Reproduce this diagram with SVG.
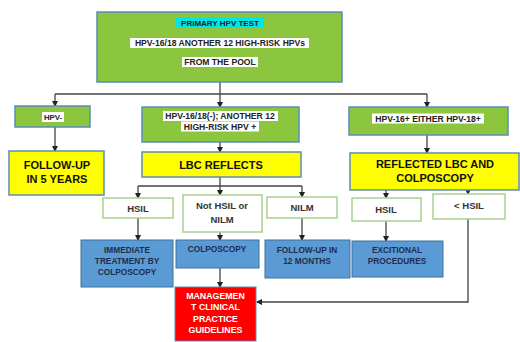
<svg xmlns="http://www.w3.org/2000/svg" width="520" height="342" viewBox="0 0 520 342">
<defs>
<style>
text{font-family:"Liberation Sans",Arial,sans-serif;font-weight:bold;text-anchor:middle}
.g{fill:#8CC63F;stroke:#5B8DB8;stroke-width:1.5}
.y{fill:#FFFF00;stroke:#5B8DB8;stroke-width:1.5}
.w{fill:#FFFFFF;stroke:#A9D18E;stroke-width:1.5}
.b{fill:#5B9BD5;stroke:#41719C;stroke-width:1}
.r{fill:#FF0000;stroke:#5B8DB8;stroke-width:1}
.hl{fill:#FFFFFF}
.t7{font-size:8.6px;fill:#222}
.t11{font-size:11px;fill:#111}
.t9{font-size:9.5px;fill:#333}
.tb{font-size:8.3px;fill:#1F2D4A}
.tr{font-size:8.8px;fill:#FFFFFF}
.c{fill:none;stroke:#444;stroke-width:1.3}
</style>
<marker id="a" viewBox="0 0 6 6" refX="5" refY="3" markerWidth="5" markerHeight="5" orient="auto">
<path d="M0,0L6,3L0,6z" fill="#222"/>
</marker>
</defs>
<rect width="520" height="342" fill="#FFFFFF"/>
<g id="connectors">
<path class="c" d="M220,82V94"/>
<path class="c" d="M55,94H427"/>
<path class="c" d="M55,94V106" marker-end="url(#a)"/>
<path class="c" d="M220,94V107" marker-end="url(#a)"/>
<path class="c" d="M427,94V107" marker-end="url(#a)"/>
<path class="c" d="M55,127V151" marker-end="url(#a)"/>
<path class="c" d="M220,142V152" marker-end="url(#a)"/>
<path class="c" d="M427,135V153" marker-end="url(#a)"/>
<path class="c" d="M220,177V186"/>
<path class="c" d="M138,186H302"/>
<path class="c" d="M138,186V198" marker-end="url(#a)"/>
<path class="c" d="M220,186V195" marker-end="url(#a)"/>
<path class="c" d="M302,186V197" marker-end="url(#a)"/>
<path class="c" d="M386,190V198" marker-end="url(#a)"/>
<path class="c" d="M468,190V194" marker-end="url(#a)"/>
<path class="c" d="M138,218V240" marker-end="url(#a)"/>
<path class="c" d="M220,232V240" marker-end="url(#a)"/>
<path class="c" d="M302,218V240" marker-end="url(#a)"/>
<path class="c" d="M386,221V241" marker-end="url(#a)"/>
<path class="c" d="M220,268V287" marker-end="url(#a)"/>
<path class="c" d="M468,219V302H257" marker-end="url(#a)"/>
</g>
<g id="n-primary">
<rect class="g" x="97" y="12" width="245" height="70"/>
<rect x="176" y="17.5" width="88" height="10" fill="#00E5E5"/>
<text class="t7" x="220" y="25.5" style="font-size:8px">PRIMARY HPV TEST</text>
<rect class="hl" x="130" y="38" width="179" height="10"/>
<text class="t7" x="220" y="46">HPV-16/18 ANOTHER 12 HIGH-RISK HPVs</text>
<rect class="hl" x="182" y="57" width="76" height="10"/>
<text class="t7" x="220" y="65">FROM THE POOL</text>
</g>
<g id="n-hpvneg">
<rect class="g" x="15" y="106" width="75" height="21"/>
<rect class="hl" x="42" y="112" width="22" height="10"/>
<text class="t7" x="53" y="120" style="font-size:7.8px">HPV-</text>
</g>
<g id="n-hpv1618neg">
<rect class="g" x="142" y="107" width="157" height="35"/>
<rect class="hl" x="163" y="111" width="115" height="10"/>
<text class="t7" x="220" y="119">HPV-16/18(-); ANOTHER 12</text>
<rect class="hl" x="181" y="121.5" width="78" height="10"/>
<text class="t7" x="220" y="129.5">HIGH-RISK HPV +</text>
</g>
<g id="n-hpv16pos">
<rect class="g" x="349" y="107" width="159" height="28"/>
<rect class="hl" x="372" y="113.5" width="112" height="10"/>
<text class="t7" x="428" y="121.5">HPV-16+ EITHER HPV-18+</text>
</g>
<g id="n-follow5">
<rect class="y" x="9" y="151" width="95" height="44"/>
<text class="t11" x="57" y="169">FOLLOW-UP</text>
<text class="t11" x="57" y="183">IN 5 YEARS</text>
</g>
<g id="n-lbc">
<rect class="y" x="142" y="152" width="159" height="25"/>
<text class="t11" x="221" y="168.5">LBC REFLECTS</text>
</g>
<g id="n-reflected">
<rect class="y" x="350" y="153" width="169" height="37"/>
<text class="t11" x="435" y="168">REFLECTED LBC AND</text>
<text class="t11" x="435" y="182">COLPOSCOPY</text>
</g>
<g id="n-hsil1">
<rect class="w" x="103" y="198" width="70" height="20"/>
<text class="t9" x="138" y="212">HSIL</text>
</g>
<g id="n-nothsil">
<rect class="w" x="183" y="195" width="79" height="37"/>
<text class="t9" x="222" y="209">Not HSIL or</text>
<text class="t9" x="222" y="223">NILM</text>
</g>
<g id="n-nilm">
<rect class="w" x="267" y="197" width="70" height="21"/>
<text class="t9" x="302" y="211">NILM</text>
</g>
<g id="n-hsil2">
<rect class="w" x="352" y="198" width="69" height="23"/>
<text class="t9" x="386" y="213">HSIL</text>
</g>
<g id="n-lthsil">
<rect class="w" x="433" y="194" width="72" height="25"/>
<text class="t9" x="469" y="209">&lt; HSIL</text>
</g>
<g id="n-immediate">
<rect class="b" x="81" y="240" width="92" height="47"/>
<text class="tb" x="127" y="253">IMMEDIATE</text>
<text class="tb" x="127" y="264">TREATMENT BY</text>
<text class="tb" x="127" y="275">COLPOSCOPY</text>
</g>
<g id="n-colposcopy">
<rect class="b" x="176" y="240" width="83" height="28"/>
<text class="tb" x="217" y="252">COLPOSCOPY</text>
</g>
<g id="n-follow12">
<rect class="b" x="265" y="240" width="85" height="38"/>
<text class="tb" x="307" y="253">FOLLOW-UP IN</text>
<text class="tb" x="307" y="264">12 MONTHS</text>
</g>
<g id="n-excitional">
<rect class="b" x="352" y="241" width="91" height="36"/>
<text class="tb" x="397" y="253">EXCITIONAL</text>
<text class="tb" x="397" y="264">PROCEDURES</text>
</g>
<g id="n-management">
<rect class="r" x="175" y="287" width="81" height="54"/>
<text class="tr" x="215.5" y="298.5">MANAGEMEN</text>
<text class="tr" x="215.5" y="310">T CLINICAL</text>
<text class="tr" x="215.5" y="321.5">PRACTICE</text>
<text class="tr" x="215.5" y="333">GUIDELINES</text>
</g>
</svg>
